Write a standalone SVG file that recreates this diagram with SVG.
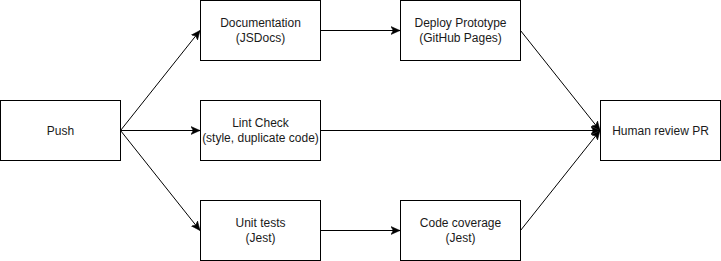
<svg xmlns="http://www.w3.org/2000/svg" width="721" height="261" viewBox="0 0 721 261">
  <style>
    .box { fill: #ffffff; stroke: #000000; stroke-width: 1; }
    .lbl { font-family: "Liberation Sans", Arial, sans-serif; font-size: 12px; fill: #1a1a1a; text-anchor: middle; }
    .edge { fill: none; stroke: #000000; stroke-width: 1; marker-end: url(#arrow); }
  </style>
  <defs>
    <marker id="arrow" markerUnits="userSpaceOnUse" markerWidth="9" markerHeight="9" viewBox="0 0 8 8" refX="8" refY="4" orient="auto">
      <path d="M0,0.5 L8,4 L0,7.5 L2,4 Z" fill="#000000" stroke="#000000" stroke-width="0.5"/>
    </marker>
  </defs>
  <rect width="721" height="261" fill="#ffffff"/>

  <g id="connectors">
    <path class="edge" d="M120.5,130.5 L200,30.5"/>
    <path class="edge" d="M120.5,130.5 L200,130.5"/>
    <path class="edge" d="M120.5,130.5 L200,230.5"/>
    <path class="edge" d="M320.5,30.5 L400,30.5"/>
    <path class="edge" d="M320.5,230.5 L400,230.5"/>
    <path class="edge" d="M520.5,30.5 L600,130.5"/>
    <path class="edge" d="M320.5,130.5 L600,130.5"/>
    <path class="edge" d="M520.5,230.5 L600,130.5"/>
  </g>

  <g id="push">
    <rect class="box" x="0.5" y="100.5" width="120" height="60"/>
    <text class="lbl" x="60.5" y="134.5">Push</text>
  </g>
  <g id="documentation">
    <rect class="box" x="200.5" y="0.5" width="120" height="60"/>
    <text class="lbl" x="260.5" y="27">Documentation</text>
    <text class="lbl" x="260.5" y="42">(JSDocs)</text>
  </g>
  <g id="deploy">
    <rect class="box" x="400.5" y="0.5" width="120" height="60"/>
    <text class="lbl" x="460.5" y="27">Deploy Prototype</text>
    <text class="lbl" x="460.5" y="42">(GitHub Pages)</text>
  </g>
  <g id="lint">
    <rect class="box" x="200.5" y="100.5" width="120" height="60"/>
    <text class="lbl" x="260.5" y="127">Lint Check</text>
    <text class="lbl" x="260.5" y="142">(style, duplicate code)</text>
  </g>
  <g id="unit-tests">
    <rect class="box" x="200.5" y="200.5" width="120" height="60"/>
    <text class="lbl" x="260.5" y="227">Unit tests</text>
    <text class="lbl" x="260.5" y="242">(Jest)</text>
  </g>
  <g id="coverage">
    <rect class="box" x="400.5" y="200.5" width="120" height="60"/>
    <text class="lbl" x="460.5" y="227">Code coverage</text>
    <text class="lbl" x="460.5" y="242">(Jest)</text>
  </g>
  <g id="human-review">
    <rect class="box" x="600.5" y="100.5" width="120" height="60"/>
    <text class="lbl" x="660.5" y="134.5">Human review PR</text>
  </g>
</svg>
